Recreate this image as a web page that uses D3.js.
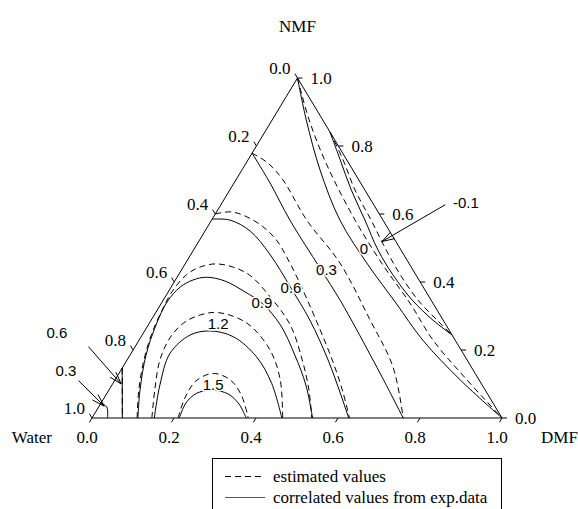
<!DOCTYPE html>
<html>
<head>
<meta charset="utf-8">
<script src="https://cdn.jsdelivr.net/npm/d3@7"></script>
<style>
  body { margin: 0; background: #fff; }
  svg { display: block; }
  .serif { font-family: 'Liberation Serif', 'Times New Roman', serif; font-size: 17px; }
  .sans { font-family: 'Liberation Sans', Arial, sans-serif; font-size: 15px; }
</style>
</head>
<body>
<div id="chart"></div>
<script>
// points are ternary fractions [DMF, NMF]; water = 1 - DMF - NMF
const tickValues = [0, 0.2, 0.4, 0.6, 0.8, 1.0];
const tickLabels = ['0.0', '0.2', '0.4', '0.6', '0.8', '1.0'];
const axisNames = ['Water', 'DMF', 'NMF'];
const legendLabels = ['estimated values', 'correlated values from exp.data'];

// correlated values (solid)
const cor15 = [[0.213, 0], [0.207, 0.044], [0.218, 0.072], [0.251, 0.082], [0.296, 0.071], [0.338, 0.041], [0.376, 0]];
const cor12 = [[0.152, 0], [0.117, 0.097], [0.095, 0.190], [0.117, 0.244], [0.160, 0.256], [0.225, 0.239], [0.311, 0.180], [0.387, 0.102], [0.463, 0]];
const cor09 = [[0.112, 0], [0.076, 0.082], [0.039, 0.185], [0.019, 0.274], [0.012, 0.341], [0.022, 0.385], [0.043, 0.406], [0.072, 0.414], [0.122, 0.403], [0.187, 0.371], [0.245, 0.338], [0.322, 0.274], [0.402, 0.185], [0.473, 0.097], [0.538, 0]];
const cor06 = [[0, 0.585], [0.045, 0.582], [0.110, 0.550], [0.192, 0.482], [0.294, 0.382], [0.387, 0.288], [0.490, 0.171], [0.573, 0.068], [0.626, 0]];
const cor06b = [[0, 0.147], [0.074, 0]];
const cor03 = [[0, 0.779], [0.088, 0.691], [0.191, 0.582], [0.335, 0.441], [0.431, 0.347], [0.516, 0.259], [0.655, 0.112], [0.759, 0]];
const cor03b = [[0, 0.044], [0.020, 0.032], [0.038, 0]];
const cor00 = [[0, 1], [0.083, 0.877], [0.191, 0.729], [0.313, 0.582], [0.448, 0.450], [0.572, 0.338], [0.692, 0.229], [0.842, 0.112], [1, 0]];
const corM01 = [[0.159, 0.841], [0.225, 0.759], [0.296, 0.671], [0.374, 0.582], [0.450, 0.494], [0.523, 0.421], [0.607, 0.347], [0.687, 0.288], [0.756, 0.244]];

// estimated values (dashed)
const est15 = [[0.210, 0], [0.197, 0.059], [0.199, 0.109], [0.230, 0.131], [0.281, 0.112], [0.330, 0.068], [0.381, 0]];
const est12 = [[0.146, 0], [0.112, 0.082], [0.080, 0.171], [0.072, 0.235], [0.083, 0.279], [0.112, 0.303], [0.153, 0.310], [0.238, 0.279], [0.334, 0.200], [0.403, 0.112], [0.465, 0]];
const est09 = [[0.110, 0], [0.073, 0.082], [0.041, 0.171], [0.021, 0.250], [0.012, 0.318], [0.009, 0.371], [0.019, 0.421], [0.041, 0.444], [0.081, 0.453], [0.164, 0.426], [0.255, 0.357], [0.346, 0.274], [0.427, 0.171], [0.488, 0.082], [0.536, 0]];
const est06 = [[0, 0.600], [0.038, 0.606], [0.107, 0.579], [0.181, 0.529], [0.254, 0.456], [0.326, 0.376], [0.414, 0.274], [0.505, 0.165], [0.574, 0.076], [0.628, 0]];
const est06b = [[0, 0.147], [0.074, 0]];
const est03 = [[0, 0.779], [0.053, 0.750], [0.115, 0.700], [0.232, 0.582], [0.376, 0.456], [0.534, 0.288], [0.659, 0.150], [0.759, 0]];
const est00 = [[0, 1], [0.090, 0.877], [0.200, 0.744], [0.350, 0.582], [0.484, 0.450], [0.606, 0.338], [0.717, 0.229], [0.851, 0.118], [1, 0]];
const estM01 = [[0.159, 0.841], [0.232, 0.759], [0.305, 0.671], [0.389, 0.582], [0.470, 0.494], [0.541, 0.421], [0.621, 0.347], [0.697, 0.288], [0.756, 0.244]];

// contour level labels sitting on the lines
const levelLabels = ['0', '0.3', '0.6', '0.9', '1.2', '1.5'];
const levelLabelAt = [[0.414, 0.497], [0.353, 0.437], [0.294, 0.382], [0.245, 0.338], [0.169, 0.277], [0.247, 0.097]];

// labels with arrows: text, label, tail, tip
const arrowLabels = ['-0.1', '0.6', '0.3'];
const arrowText = [[0.595, 0.632], [-0.211, 0.250], [-0.133, 0.138]];
const arrowTail = [[0.547, 0.627], [-0.114, 0.210], [-0.088, 0.110]];
const arrowTip = [[0.447, 0.519], [0.021, 0.100], [0.012, 0.035]];

const width = 578, height = 509;

const x = d3.scaleLinear().domain([0, 1]).range([92, 502]);
const y = d3.scaleLinear().domain([0, 1]).range([418, 78]);
const skew = d3.scaleLinear().domain([0, 1]).range([0, 205.5]);
const proj = d => [x(d[0]) + skew(d[1]), y(d[1])];

const svg = d3.select('#chart').append('svg')
  .attr('width', width)
  .attr('height', height);

svg.append('rect').attr('width', width).attr('height', height).attr('fill', '#fff');

const line = d3.line()
  .x(d => proj(d)[0])
  .y(d => proj(d)[1])
  .curve(d3.curveCatmullRom.alpha(0.5));

// contours
const solids = [cor15, cor12, cor09, cor06, cor06b, cor03, cor03b, cor00, corM01];
const dashed = [est15, est12, est09, est06, est06b, est03, est00, estM01];

svg.append('g').selectAll('path')
  .data(dashed)
  .enter().append('path')
  .attr('d', line)
  .attr('fill', 'none')
  .attr('stroke', '#000')
  .attr('stroke-width', 1)
  .attr('stroke-dasharray', '6,4');

svg.append('g').selectAll('path')
  .data(solids)
  .enter().append('path')
  .attr('d', line)
  .attr('fill', 'none')
  .attr('stroke', '#000')
  .attr('stroke-width', 1);

// triangle frame
const corners = [[0, 0], [1, 0], [0, 1]].map(proj);
svg.append('path')
  .attr('d', 'M' + corners.map(p => p.join(',')).join('L') + 'Z')
  .attr('fill', 'none')
  .attr('stroke', '#000')
  .attr('stroke-width', 1);

const axes = svg.append('g').attr('class', 'serif');

// bottom axis: DMF
tickValues.forEach((t, i) => {
  const p = proj([t, 0]);
  axes.append('line').attr('x1', p[0]).attr('y1', p[1]).attr('x2', p[0] - 2.6).attr('y2', p[1] + 4.3).attr('stroke', '#000');
  axes.append('text').attr('x', p[0] - 5).attr('y', p[1] + 25).attr('text-anchor', 'middle').text(tickLabels[i]);
});

// right axis: NMF
tickValues.forEach((t, i) => {
  const p = proj([1 - t, t]);
  axes.append('line').attr('x1', p[0]).attr('y1', p[1]).attr('x2', p[0] + 5).attr('y2', p[1]).attr('stroke', '#000');
  axes.append('text').attr('x', p[0] + 13).attr('y', p[1] + 6).attr('text-anchor', 'start').text(tickLabels[i]);
});

// left axis: Water
tickValues.forEach((t, i) => {
  const p = proj([0, 1 - t]);
  axes.append('line').attr('x1', p[0]).attr('y1', p[1]).attr('x2', p[0] - 2.6).attr('y2', p[1] - 4.3).attr('stroke', '#000');
  axes.append('text').attr('x', p[0] - 7).attr('y', p[1] - 4).attr('text-anchor', 'end').text(tickLabels[i]);
});

// axis names
const pw = proj([0, 0]), pd = proj([1, 0]), pn = proj([0, 1]);
axes.append('text').attr('x', pw[0] - 40).attr('y', pw[1] + 25).attr('text-anchor', 'end').text(axisNames[0]);
axes.append('text').attr('x', pd[0] + 39).attr('y', pd[1] + 25).attr('text-anchor', 'start').text(axisNames[1]);
axes.append('text').attr('x', pn[0]).attr('y', pn[1] - 46).attr('text-anchor', 'middle').text(axisNames[2]);

// level labels on lines, with white halo to break the line
svg.append('g').attr('class', 'sans').selectAll('text')
  .data(levelLabels)
  .enter().append('text')
  .attr('x', (d, i) => proj(levelLabelAt[i])[0])
  .attr('y', (d, i) => proj(levelLabelAt[i])[1])
  .attr('dy', '0.35em')
  .attr('text-anchor', 'middle')
  .attr('stroke', '#fff')
  .attr('stroke-width', 3)
  .attr('paint-order', 'stroke')
  .attr('fill', '#000')
  .text(d => d);

// arrow labels
const ag = svg.append('g');
arrowLabels.forEach((lab, i) => {
  const tp = proj(arrowText[i]), a = proj(arrowTail[i]), b = proj(arrowTip[i]);
  ag.append('text').attr('class', 'sans')
    .attr('x', tp[0]).attr('y', tp[1]).attr('dy', '0.35em')
    .attr('text-anchor', 'middle').text(lab);
  ag.append('line').attr('x1', a[0]).attr('y1', a[1]).attr('x2', b[0]).attr('y2', b[1]).attr('stroke', '#000');
  const ang = Math.atan2(a[1] - b[1], a[0] - b[0]);
  [-0.3, 0.3].forEach(da => {
    ag.append('line')
      .attr('x1', b[0]).attr('y1', b[1])
      .attr('x2', b[0] + 13 * Math.cos(ang + da))
      .attr('y2', b[1] + 13 * Math.sin(ang + da))
      .attr('stroke', '#000');
  });
});

// legend
const lg = svg.append('g').attr('class', 'serif');
lg.append('rect').attr('x', 212.5).attr('y', 458.5).attr('width', 289).attr('height', 70)
  .attr('fill', 'none').attr('stroke', '#000');
lg.append('line').attr('x1', 225).attr('x2', 265).attr('y1', 476.5).attr('y2', 476.5)
  .attr('stroke', '#000').attr('stroke-dasharray', '6,4');
lg.append('line').attr('x1', 225).attr('x2', 265).attr('y1', 497.5).attr('y2', 497.5)
  .attr('stroke', '#555');
lg.append('text').attr('x', 273).attr('y', 482).text(legendLabels[0]);
lg.append('text').attr('x', 273).attr('y', 503).text(legendLabels[1]);
</script>
</body>
</html>
